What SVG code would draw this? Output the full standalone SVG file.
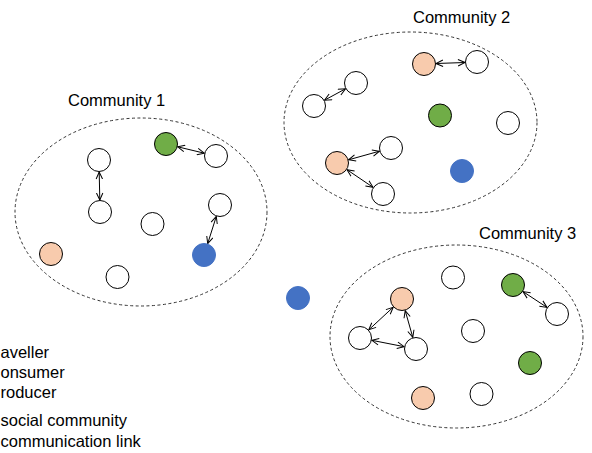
<svg xmlns="http://www.w3.org/2000/svg" width="592" height="453" viewBox="0 0 592 453">
<defs>
<style>
text{font-family:"Liberation Sans",Arial,sans-serif;font-size:16.5px;fill:#000}
.comm{fill:none;stroke:#333;stroke-width:1;stroke-dasharray:3 2.5}
.n{stroke:#000;stroke-width:1}
.w{fill:#fff}
.g{fill:#70ad47}
.p{fill:#f8cbad}
.b{fill:#4472c4;stroke:#4472c4}
.link{stroke:#000;stroke-width:1;fill:none;marker-start:url(#ah);marker-end:url(#ah)}
</style>
<marker id="ah" viewBox="0 0 8 8" refX="7.5" refY="4" markerWidth="8" markerHeight="8" markerUnits="userSpaceOnUse" orient="auto-start-reverse">
<path d="M0.5,0.8 L7.5,4 L0.5,7.2" fill="none" stroke="#000" stroke-width="1"/>
</marker>
</defs>
<rect width="592" height="453" fill="#fff"/>

<g id="community1">
<ellipse class="comm" cx="141" cy="212" rx="126" ry="94"/>
<text x="68" y="106">Community 1</text>
</g>
<g id="community2">
<ellipse class="comm" cx="410.5" cy="122.5" rx="126.5" ry="90.5"/>
<text x="413" y="23">Community 2</text>
</g>
<g id="community3">
<ellipse class="comm" cx="456.5" cy="336.5" rx="126.5" ry="91.5"/>
<text x="479" y="239">Community 3</text>
</g>

<g id="connectors">
<line class="link" x1="99.2" y1="172" x2="99.8" y2="200"/>
<line class="link" x1="177.7" y1="146.8" x2="204.3" y2="153.2"/>
<line class="link" x1="216.3" y1="216.4" x2="207.7" y2="243.6"/>
<line class="link" x1="436" y1="63.5" x2="465" y2="62.5"/>
<line class="link" x1="345.5" y1="88.8" x2="324.5" y2="100.2"/>
<line class="link" x1="348.6" y1="159.8" x2="379.4" y2="151.2"/>
<line class="link" x1="347" y1="169.7" x2="373" y2="187.3"/>
<line class="link" x1="523" y1="291.6" x2="547" y2="307.4"/>
<line class="link" x1="393.2" y1="307.2" x2="368.8" y2="329.8"/>
<line class="link" x1="405.2" y1="310.6" x2="412.8" y2="337.4"/>
<line class="link" x1="371.8" y1="340.3" x2="404.2" y2="346.7"/>
</g>

<g id="c1-green1"><circle class="n g" cx="166" cy="144" r="11.5"/></g>
<g id="c1-white1"><circle class="n w" cx="216" cy="156" r="11.5"/></g>
<g id="c1-white2"><circle class="n w" cx="99" cy="160" r="11.5"/></g>
<g id="c1-white3"><circle class="n w" cx="100" cy="212" r="11.5"/></g>
<g id="c1-white4"><circle class="n w" cx="152.5" cy="224" r="11.5"/></g>
<g id="c1-white5"><circle class="n w" cx="220" cy="205" r="11.5"/></g>
<g id="c1-blue1"><circle class="n b" cx="204" cy="255" r="11.5"/></g>
<g id="c1-peach1"><circle class="n p" cx="51" cy="254" r="11.5"/></g>
<g id="c1-white6"><circle class="n w" cx="117.5" cy="277" r="11.5"/></g>

<g id="c2-peach1"><circle class="n p" cx="424" cy="64" r="11.5"/></g>
<g id="c2-white1"><circle class="n w" cx="477" cy="62" r="11.5"/></g>
<g id="c2-white2"><circle class="n w" cx="356" cy="83" r="11.5"/></g>
<g id="c2-white3"><circle class="n w" cx="314" cy="106" r="11.5"/></g>
<g id="c2-green1"><circle class="n g" cx="440" cy="115.5" r="11.5"/></g>
<g id="c2-white4"><circle class="n w" cx="508" cy="123" r="11.5"/></g>
<g id="c2-white5"><circle class="n w" cx="391" cy="148" r="11.5"/></g>
<g id="c2-peach2"><circle class="n p" cx="337" cy="163" r="11.5"/></g>
<g id="c2-blue1"><circle class="n b" cx="462" cy="171" r="11.5"/></g>
<g id="c2-white6"><circle class="n w" cx="383" cy="194" r="11.5"/></g>

<g id="outside-blue"><circle class="n b" cx="298" cy="298" r="11.5"/></g>

<g id="c3-white1"><circle class="n w" cx="453" cy="277.5" r="11.5"/></g>
<g id="c3-green1"><circle class="n g" cx="513" cy="285" r="11.5"/></g>
<g id="c3-peach1"><circle class="n p" cx="402" cy="299" r="11.5"/></g>
<g id="c3-white2"><circle class="n w" cx="557" cy="314" r="11.5"/></g>
<g id="c3-white3"><circle class="n w" cx="473" cy="331" r="11.5"/></g>
<g id="c3-white4"><circle class="n w" cx="360" cy="338" r="11.5"/></g>
<g id="c3-white5"><circle class="n w" cx="416" cy="349" r="11.5"/></g>
<g id="c3-green2"><circle class="n g" cx="530" cy="363" r="11.5"/></g>
<g id="c3-peach2"><circle class="n p" cx="423" cy="398" r="11.5"/></g>
<g id="c3-white6"><circle class="n w" cx="481.5" cy="394" r="11.5"/></g>

<g id="legend">
<text x="0.5" y="357.5">aveller</text>
<text x="0.5" y="378">onsumer</text>
<text x="0.5" y="398">roducer</text>
<text x="0.5" y="426">social community</text>
<text x="0.5" y="447">communication link</text>
</g>
</svg>
